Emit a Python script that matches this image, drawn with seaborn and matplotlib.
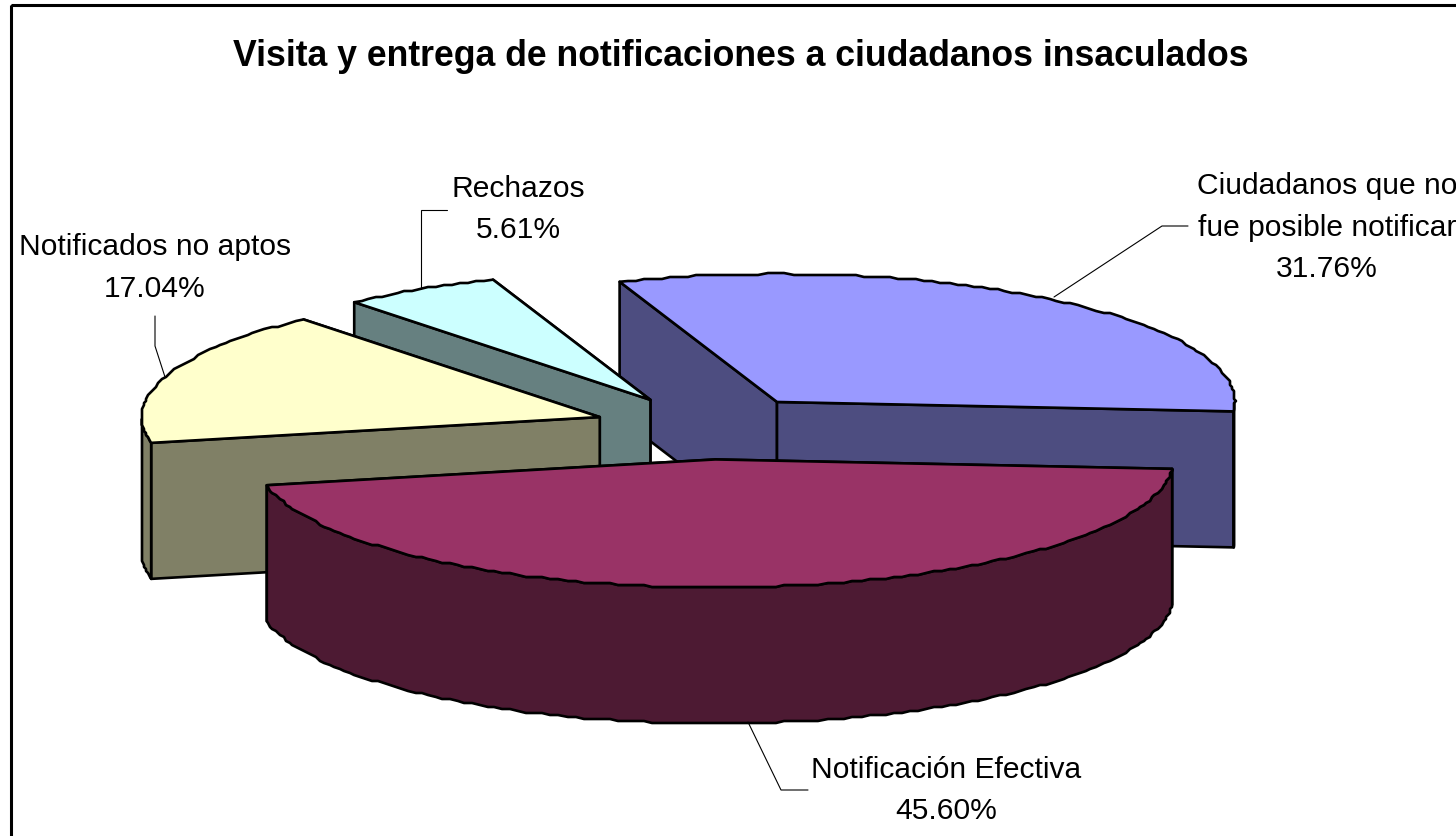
import numpy as np
import matplotlib
matplotlib.use("Agg")
import matplotlib.pyplot as plt
from matplotlib.patches import Polygon, Rectangle
import seaborn as sns

# ---- data ----
TITLE = "Visita y entrega de notificaciones a ciudadanos insaculados"
names = ["Ciudadanos que no\nfue posible notificar", "Notificación Efectiva",
         "Notificados no aptos", "Rechazos"]
values = [31.76, 45.60, 17.04, 5.61]
top_colors = ["#9999FF", "#993366", "#FFFFCC", "#CCFFFF"]

# ---- layout (pixel space of the figure) ----
W, H = 1456, 837
CX, CY, RX, RY = 708, 428.5, 458, 128
DEPTH = 136
EXPLODE = 0.25
START = 110.1
STEP_DEG = 1.1
SNAP = 2.0
LW = 1.9
draw_order = [0, 3, 2, 1]
label_pos = [(1327, 227.5), (946, 790.5), (155, 268), (518, 209.5)]
leaders = [
    [(1054, 298), (1162, 227), (1188, 227)],
    [(748, 723), (781, 791), (808, 791)],
    [(165, 378), (155, 347), (155, 317)],
    [(421, 290), (421, 211), (447, 211)],
]

sns.set_theme(style="white")
plt.rcParams["font.family"] = ["Liberation Sans", "DejaVu Sans"]
palette = sns.color_palette(top_colors)

fig = plt.figure(figsize=(W / 100, H / 100), dpi=100, facecolor="white")
ax = fig.add_axes([0, 0, 1, 1])
ax.set_xlim(0, W)
ax.set_ylim(H, 0)
ax.axis("off")

ax.add_patch(Rectangle((10.5, 5.5), W + 40, H + 40, fill=False, ec="black", lw=2.2, zorder=0))


def arc(cx, cy, a, b):
    """Rim points from angle a clockwise to angle b, snapped to a coarse grid."""
    n = max(2, int(abs(a - b) / STEP_DEG) + 1)
    t = np.radians(np.linspace(a, b, n))
    x = cx + RX * np.cos(t)
    y = cy - RY * np.sin(t)
    x[1:-1] = np.round(x[1:-1] / SNAP) * SNAP
    y[1:-1] = np.round(y[1:-1] / SNAP) * SNAP
    return np.column_stack([x, y])


def face(pts, color, z):
    ax.add_patch(Polygon(pts, closed=True, fc=color, ec="black", lw=LW,
                         joinstyle="round", zorder=z))


total = sum(values)
spans = []
cur = START
for v in values:
    spans.append((cur, cur - v / total * 360))
    cur = spans[-1][1]

for z, i in enumerate(draw_order):
    a, b = spans[i]
    mid = np.radians((a + b) / 2)
    cx = CX + EXPLODE * RX * np.cos(mid)
    cy = CY - EXPLODE * RY * np.sin(mid)
    top = np.array(palette[i])
    side = tuple(top * 0.5)
    rim = arc(cx, cy, a, b)
    apex = np.array([cx, cy])
    base = 10 * z + 1
    drop = np.array([0, DEPTH])

    # radial cut faces, the farther one first
    cuts = sorted([rim[0], rim[-1]], key=lambda p: p[1] + cy)
    for k, p in enumerate(cuts):
        face(np.array([apex, p, p + drop, apex + drop]), side, base + k)

    # outer wall: only the part of the rim facing the viewer
    ts = np.radians(np.linspace(a, b, len(rim)))
    front = rim[np.sin(ts) <= 0]
    if len(front) > 1:
        face(np.vstack([front, (front + drop)[::-1]]), side, base + 2)

    face(np.vstack([apex, rim]), tuple(top), base + 3)

for i, pts in enumerate(leaders):
    xs, ys = zip(*pts)
    ax.plot(xs, ys, color="black", lw=0.8, zorder=60, solid_joinstyle="miter")
    lx, ly = label_pos[i]
    ax.text(lx, ly, f"{names[i]}\n{values[i]:.2f}%", ha="center", va="center",
            fontsize=21.6, color="black", linespacing=1.6, zorder=70)

ax.text(741, 56, TITLE, ha="center", va="center", fontsize=25.7,
        fontweight="bold", color="black", zorder=70)

fig.savefig("out.png", dpi=100, facecolor="white")
